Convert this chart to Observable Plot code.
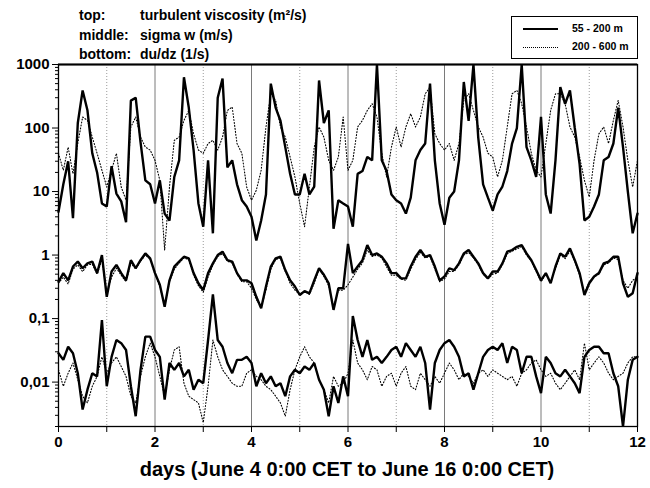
<!DOCTYPE html>
<html><head><meta charset="utf-8">
<script src="https://cdn.jsdelivr.net/npm/d3@7"></script>
<script src="https://cdn.jsdelivr.net/npm/@observablehq/plot@0.6"></script>
<style>
body{margin:0;background:#fff;font-family:"Liberation Sans",Arial,sans-serif;}
#wrap{position:relative;width:650px;height:488px;}
.hdr{position:absolute;font-weight:bold;font-size:14px;line-height:14px;color:#000;white-space:nowrap;}
#legend{position:absolute;left:511px;top:16px;width:125px;height:41px;border:1px solid #000;background:#fff;font-weight:bold;font-size:10.5px;}
.lrow{position:absolute;left:11px;white-space:nowrap;}
.sw{display:inline-block;width:35px;vertical-align:middle;margin-right:14px;}
#xtitle{position:absolute;left:0;width:694px;text-align:center;top:458px;font-weight:bold;font-size:20px;}
svg text{font-weight:bold;}
</style></head>
<body>
<div id="wrap"></div>
<script>
// time grid: 0..12 days, sampled every 0.1 day
const days = d3.range(121).map(i => i / 10);

// top: turbulent viscosity (m²/s)
const viscShallow = [4.8,13,30,3.8,120,390,190,40,20,6.5, 5.8,25,9.3,7,3.3,270,300,60,15,13, 6.5,15,4.5,3.5,17,31,630,210,45,6.5, 2.8,31,2.2,300,600,24,31,13,7.3,5.8, 4,1.7,3.5,9,500,210,130,50,19,9, 9,19,9,12,560,120,190,2.6,7.3,6.5, 5.8,2.8,19,21,35,31,1000,31,21,9, 7.3,6.5,4.5,8,31,45,57,500,31,6.5, 3,8,10,31,530,130,1000,70,13,8, 5,9,12,21,57,100,1000,50,31,17, 150,9,4.5,31,440,240,390,100,27,3.5, 4,5.8,9,31,35,57,210,50,10,2.2, 4.5];
const viscDeep = [40,21.6,50,19,57,149,132,72,40,21.6, 11.8,21.6,40,11.8,7.3,104,149,72,50,45, 31,15,1.2,11.8,64,72,132,189,81,45, 40,57,64,45,72,189,214,57,40,11.8, 7.3,10.5,21.6,104,346,272,104,72,35,17, 6.5,2.8,11.8,50,104,72,31,21.6,35,149, 21.6,31,104,132,189,241,149,40,17,50, 104,50,104,168,104,149,346,440,81,57, 45,57,31,57,272,346,189,104,72,40, 35,17,31,104,346,391,241,104,40,21.6, 17,57,189,346,346,241,104,72,35,15, 8.2,31,81,104,57,132,272,104,31,11.8, 31];

// middle: sigma w (m/s)
const sigmaShallow = [0.38,0.52,0.40,0.66,0.79,0.62,0.74,0.79,0.52,1.0, 0.22,0.55,0.70,0.52,0.40,0.83,0.62,0.83,1.06,0.89, 0.52,0.34,0.154,0.40,0.66,0.79,0.94,0.89,0.52,0.36, 0.28,0.52,0.74,1.0,1.13,0.83,0.79,0.52,0.40,0.40, 0.36,0.22,0.145,0.32,0.66,0.89,0.94,0.58,0.40,0.32, 0.235,0.27,0.25,0.40,0.62,0.49,0.36,0.137,0.30,0.30, 1.5,0.52,0.66,0.83,1.44,1.0,1.06,0.94,0.74,0.52, 0.52,0.43,0.43,0.66,0.94,1.2,0.94,1.0,0.66,0.40, 0.46,0.62,0.58,0.74,1.06,1.2,0.94,0.74,0.52,0.43, 0.55,0.55,0.74,1.13,1.2,1.35,1.44,1.06,0.83,0.58, 0.40,0.52,0.36,0.66,1.06,0.94,1.27,0.83,0.52,0.235, 0.36,0.46,0.52,0.74,0.79,0.94,0.94,0.36,0.22,0.25, 0.52];
const sigmaDeep = [0.36,0.45,0.35,0.6,0.7,0.55,0.7,0.72,0.5,0.85, 0.25,0.45,0.62,0.48,0.38,0.75,0.6,0.8,1.0,0.85, 0.5,0.32,0.16,0.38,0.6,0.75,0.9,0.85,0.48,0.33, 0.26,0.45,0.7,0.95,1.05,0.8,0.75,0.5,0.38,0.38, 0.3,0.2,0.15,0.28,0.6,0.85,0.9,0.55,0.36,0.28, 0.24,0.27,0.24,0.36,0.6,0.46,0.33,0.15,0.28,0.28, 0.34,0.45,0.6,0.75,1.2,0.95,1.0,0.9,0.65,0.48, 0.48,0.42,0.4,0.6,0.85,1.1,0.9,0.95,0.6,0.38, 0.42,0.55,0.55,0.7,1.0,1.1,0.9,0.7,0.5,0.42, 0.5,0.52,0.7,1.05,1.15,1.25,1.35,1.0,0.8,0.55, 0.38,0.5,0.38,0.6,1.0,0.88,1.15,0.8,0.48,0.25, 0.38,0.45,0.5,0.7,0.75,0.9,0.85,0.4,0.3,0.4, 0.45];

// bottom: du/dz (1/s)
const shearShallow = [0.0285,0.0224,0.036,0.0285,0.0138,0.0037,0.0076,0.0138,0.0123,0.095, 0.0086,0.025,0.046,0.041,0.032,0.0086,0.0029,0.0156,0.052,0.052, 0.032,0.025,0.0053,0.020,0.0156,0.020,0.0123,0.0156,0.0076,0.0109, 0.0096,0.046,0.24,0.046,0.036,0.020,0.0138,0.0224,0.0224,0.025, 0.020,0.0086,0.0138,0.0096,0.0123,0.0086,0.0096,0.006,0.0123,0.0156, 0.0138,0.0176,0.0156,0.020,0.0109,0.0076,0.0029,0.0086,0.0047,0.0123, 0.006,0.11,0.046,0.025,0.046,0.0224,0.025,0.020,0.025,0.032, 0.036,0.025,0.041,0.032,0.025,0.036,0.020,0.0037,0.020,0.032, 0.041,0.046,0.036,0.025,0.0123,0.0138,0.0076,0.0138,0.025,0.032, 0.036,0.032,0.041,0.020,0.036,0.032,0.0138,0.025,0.025,0.0123, 0.0067,0.025,0.020,0.0138,0.0123,0.0156,0.0123,0.0096,0.0067,0.025, 0.032,0.036,0.036,0.0285,0.0285,0.0138,0.0086,0.002,0.0109,0.0224, 0.025];
const shearDeep = [0.0156,0.0086,0.0138,0.020,0.0109,0.006,0.0047,0.0086,0.0123,0.025, 0.0138,0.020,0.025,0.0176,0.0123,0.006,0.0047,0.0123,0.025,0.041, 0.025,0.0123,0.006,0.0156,0.032,0.036,0.0096,0.006,0.0053,0.0047, 0.0023,0.0086,0.046,0.025,0.0156,0.0123,0.0096,0.0086,0.0086,0.0138, 0.0156,0.0123,0.0109,0.0086,0.0076,0.006,0.0047,0.0029,0.0076,0.0156, 0.025,0.036,0.025,0.020,0.0109,0.0076,0.0047,0.0123,0.0086,0.0096, 0.0138,0.046,0.020,0.0156,0.0109,0.0176,0.0156,0.0086,0.0123,0.0138, 0.0086,0.0138,0.0176,0.0086,0.0076,0.0138,0.0109,0.0086,0.0123,0.0096, 0.0138,0.020,0.0156,0.0109,0.0138,0.0123,0.0096,0.0138,0.0156,0.0123, 0.0156,0.0138,0.0123,0.0109,0.0123,0.0086,0.0138,0.0156,0.020,0.0224, 0.0156,0.0123,0.0138,0.0096,0.0076,0.0096,0.0123,0.0156,0.0109,0.041, 0.0156,0.020,0.025,0.020,0.0138,0.0109,0.0123,0.0138,0.020,0.025, 0.025];

const yTicks = [1000, 100, 10, 1, 0.1, 0.01];
const yLabels = ["1000", "100", "10", "1", "0,1", "0,01"];
const xTicks = [0,1,2,3,4,5,6,7,8,9,10,11,12];
const xLabels = ["0","","2","","4","","6","","8","","10","","12"];
const evenGrid = [2,4,6,8,10];
const oddGrid = [1,3,5,7,9,11];

const minorTicks = [];
for (let e = -3; e <= 2; e++) for (let k = 2; k <= 9; k++) {
  const v = k * Math.pow(10, e);
  if (v >= 0.00199 && v < 1000) minorTicks.push(v);
}

const rows = [];
function add(arr, series, band) {
  arr.forEach((v, i) => rows.push({day: days[i], value: v, series, key: band + "-" + series}));
}
add(viscShallow, "55 - 200 m", "top");
add(viscDeep, "200 - 600 m", "top");
add(sigmaShallow, "55 - 200 m", "mid");
add(sigmaDeep, "200 - 600 m", "mid");
add(shearShallow, "55 - 200 m", "bot");
add(shearDeep, "200 - 600 m", "bot");

const chart = Plot.plot({
  width: 650, height: 488,
  marginLeft: 58, marginRight: 13, marginTop: 64, marginBottom: 62,
  style: {fontFamily: "'Liberation Sans', Arial, sans-serif", fontSize: "15px", background: "#fff", color: "#000"},
  x: {domain: [0, 12], label: null},
  y: {type: "log", domain: [0.002, 1000], label: null},
  marks: [
    Plot.ruleX(evenGrid, {stroke: "#7a7a7a", strokeWidth: 1}),
    Plot.ruleX(oddGrid, {stroke: "#9a9a9a", strokeWidth: 1, strokeDasharray: "1,2"}),
    Plot.line(rows.filter(d => d.series === "200 - 600 m"), {x: "day", y: "value", z: "key", stroke: "#000", strokeWidth: 1.1, strokeDasharray: "1,2"}),
    Plot.line(rows.filter(d => d.series === "55 - 200 m"), {x: "day", y: "value", z: "key", stroke: "#000", strokeWidth: 2.4, strokeLinejoin: "miter"}),
    Plot.axisY(minorTicks, {tickSize: 3, tickFormat: () => ""}),
    Plot.axisY(yTicks, {tickSize: 6, tickPadding: 3, tickFormat: d => yLabels[yTicks.indexOf(d)]}),
    Plot.axisX(xTicks, {tickSize: 6, tickPadding: 4, tickFormat: d => xLabels[xTicks.indexOf(d)]}),
    Plot.frame({stroke: "#000", strokeWidth: 1.3}),
    Plot.ruleY([1000], {stroke: "#000", strokeWidth: 2.2})
  ]
});

const wrap = document.getElementById("wrap");
wrap.appendChild(chart);

const header = [["top:", "turbulent viscosity (m²/s)"], ["middle:", "sigma w (m/s)"], ["bottom:", "du/dz (1/s)"]];
header.forEach(([a, b], i) => {
  const l = document.createElement("div"); l.className = "hdr"; l.textContent = a;
  l.style.left = "79px"; l.style.top = (8 + i * 19.5) + "px"; wrap.appendChild(l);
  const r = document.createElement("div"); r.className = "hdr"; r.textContent = b;
  r.style.left = "140px"; r.style.top = (8 + i * 19.5) + "px"; wrap.appendChild(r);
});

const legendItems = [["55 - 200 m", "2px solid #000"], ["200 - 600 m", "1px dotted #000"]];
const lg = document.createElement("div"); lg.id = "legend";
legendItems.forEach(([t, b], i) => {
  const row = document.createElement("div"); row.className = "lrow"; row.style.top = (5 + i * 18) + "px";
  const sw = document.createElement("span"); sw.className = "sw"; sw.style.borderTop = b;
  row.appendChild(sw);
  row.appendChild(document.createTextNode(t));
  lg.appendChild(row);
});
wrap.appendChild(lg);

const xt = document.createElement("div"); xt.id = "xtitle";
xt.textContent = "days (June 4 0:00 CET to June 16 0:00 CET)";
wrap.appendChild(xt);
</script>
</body></html>
